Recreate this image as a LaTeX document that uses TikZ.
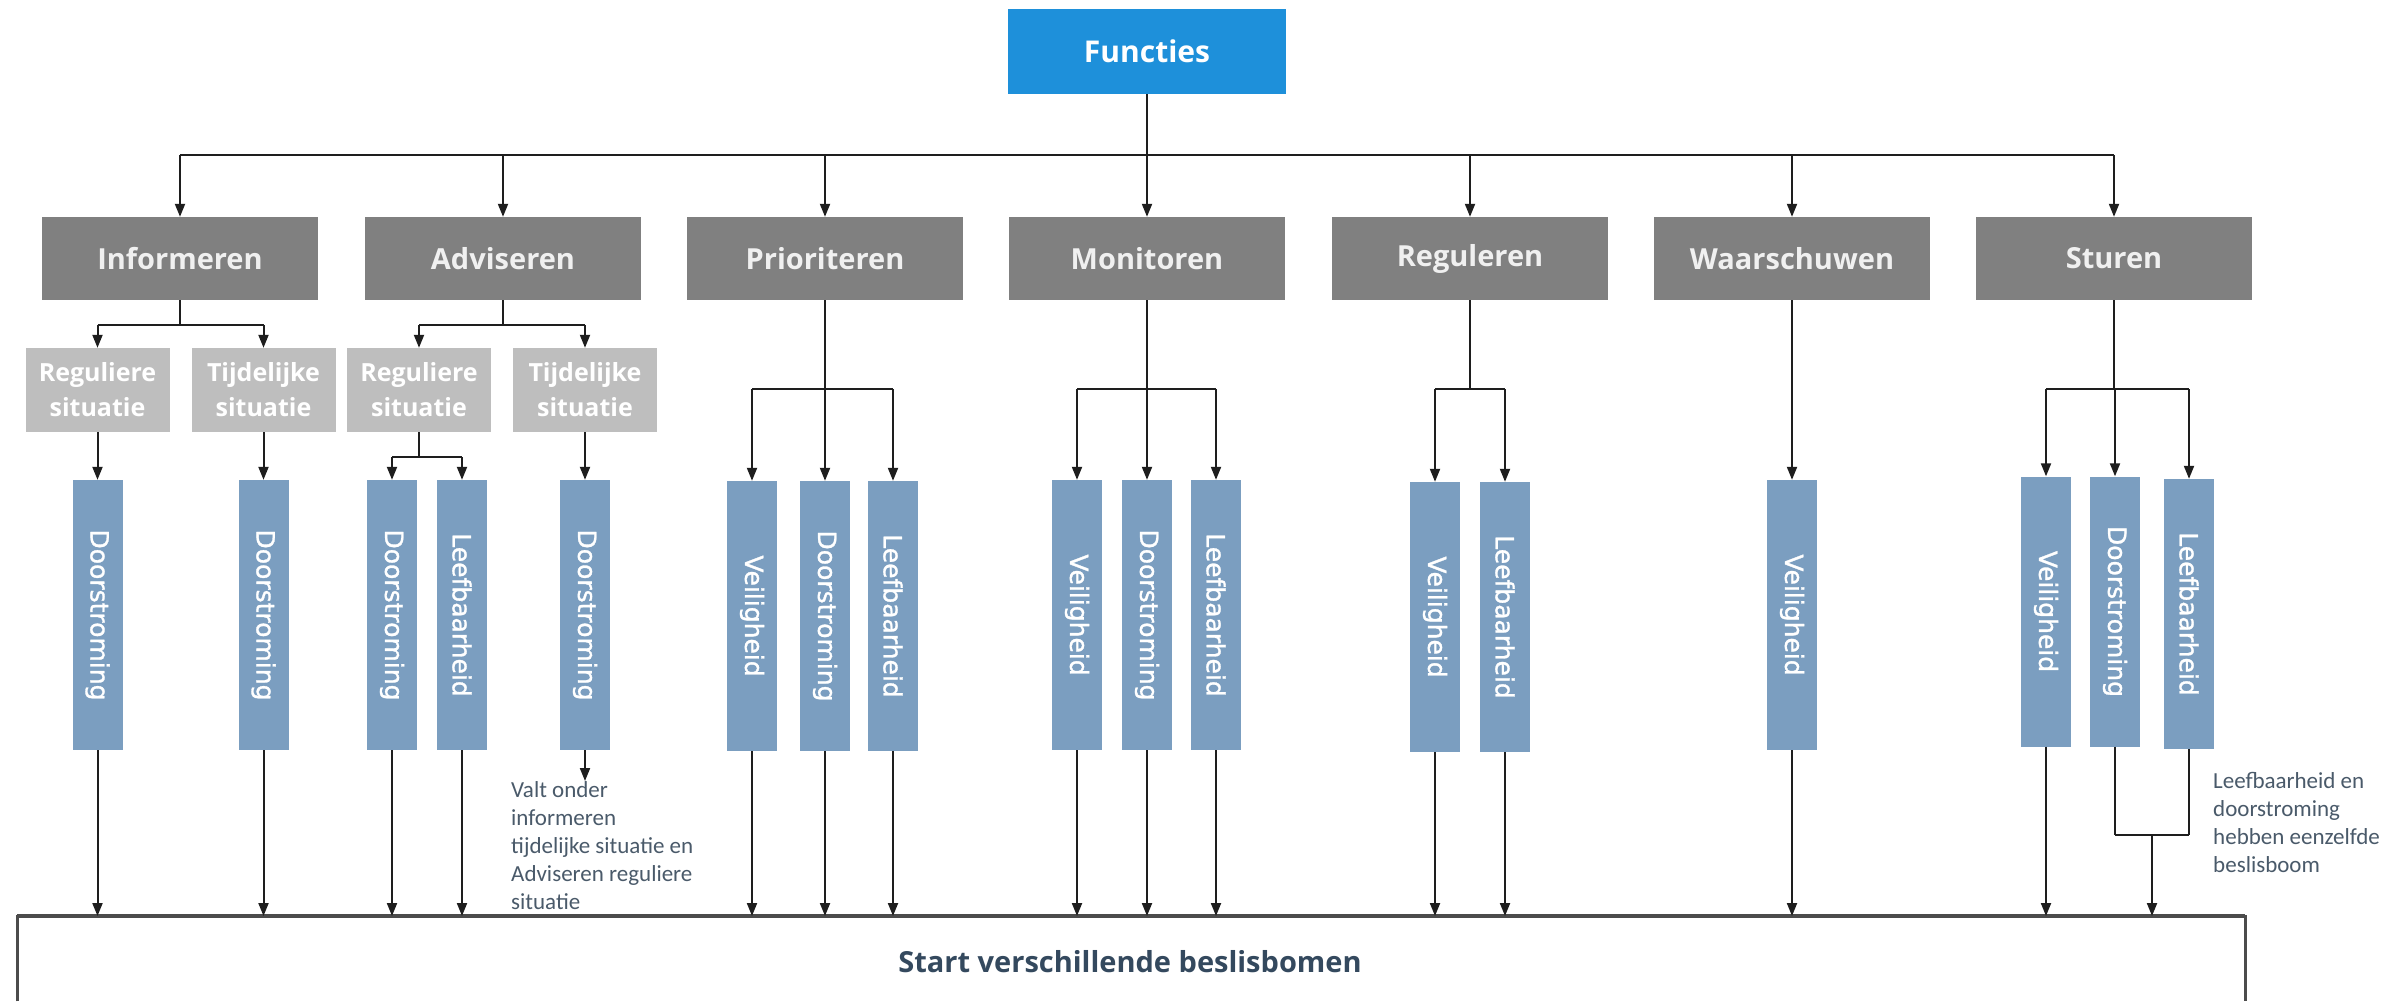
\documentclass[tikz,border=0pt]{standalone}
\usepackage{fontspec}
\usepackage{graphicx}
\setmainfont{Open Sans}
\newfontfamily\notefont{Carlito}
\newfontfamily\vfont[FakeBold=1.2]{DejaVu Sans}
\usetikzlibrary{arrows.meta}
\definecolor{funcblue}{HTML}{1E90DA}
\definecolor{mgray}{HTML}{808080}
\definecolor{lgray}{HTML}{BEBEBE}
\definecolor{steel}{HTML}{7B9EC0}
\definecolor{notec}{HTML}{4A5A6A}
\definecolor{startc}{HTML}{34495E}
\definecolor{linec}{HTML}{1E1E1E}
\begin{document}
\begin{tikzpicture}[x=1pt,y=-1pt,
  conn/.style={line width=2pt, draw=linec},
  arr/.style={conn, -{Triangle[length=13pt,width=10pt]}},
  funcbox/.style={fill=funcblue, minimum width=278pt, minimum height=85pt, inner sep=0pt, text=white, font=\fontsize{30}{36}\selectfont\bfseries},
  mainbox/.style={fill=mgray, minimum width=276pt, minimum height=83pt, inner sep=0pt, text=white!94!black, font=\fontsize{29}{34}\selectfont\bfseries},
  subbox/.style={fill=lgray, minimum width=144pt, minimum height=84pt, inner sep=0pt, text=white, align=center, font=\fontsize{25}{35}\selectfont\bfseries},
  vbox/.style={fill=steel, minimum width=50pt, minimum height=270pt, inner sep=0pt, text=white, font=\vfont\fontsize{25}{30}\selectfont},
  note/.style={inner sep=0pt, align=left, text=notec, font=\notefont\fontsize{23}{28}\selectfont, anchor=north west},
]
\useasboundingbox (0,0) rectangle (2390,1001);
\fill[white] (0,0) rectangle (2390,1001);

% junction levels
\coordinate (bus) at (0,155);
\coordinate (j1) at (0,325);
\coordinate (j3) at (0,389);
\coordinate (j2) at (0,457);
\coordinate (j4) at (0,835);

% top
\node[funcbox] (fun) at (1147,51.5) {Functies};

% main boxes
\node[mainbox] (inf) at (180,258.5) {Informeren};
\node[mainbox] (adv) at (503,258.5) {Adviseren};
\node[mainbox] (pri) at (825,258.5) {Prioriteren};
\node[mainbox] (mon) at (1147,258.5) {Monitoren};
\node[mainbox] (reg) at (1470,258.5) {Reguleren};
\node[mainbox] (waa) at (1792,258.5) {Waarschuwen};
\node[mainbox] (stu) at (2114,258.5) {Sturen};

% sub boxes
\node[subbox] (ir) at (97.5,390) {Reguliere\\situatie};
\node[subbox] (it) at (263.5,390) {Tijdelijke\\situatie};
\node[subbox] (ar) at (419,390) {Reguliere\\situatie};
\node[subbox] (at) at (585,390) {Tijdelijke\\situatie};

% vertical boxes
\node[vbox] (b1) at (97.5,615) {\rotatebox{-90}{Doorstroming}};
\node[vbox] (b2) at (263.5,615) {\rotatebox{-90}{Doorstroming}};
\node[vbox] (b3) at (392,615) {\rotatebox{-90}{Doorstroming}};
\node[vbox] (b4) at (462,615) {\rotatebox{-90}{Leefbaarheid}};
\node[vbox] (b5) at (585,615) {\rotatebox{-90}{Doorstroming}};
\node[vbox] (b6) at (752,616) {\rotatebox{-90}{Veiligheid}};
\node[vbox] (b7) at (825,616) {\rotatebox{-90}{Doorstroming}};
\node[vbox] (b8) at (893,616) {\rotatebox{-90}{Leefbaarheid}};
\node[vbox] (b9) at (1077,615) {\rotatebox{-90}{Veiligheid}};
\node[vbox] (b10) at (1147,615) {\rotatebox{-90}{Doorstroming}};
\node[vbox] (b11) at (1216,615) {\rotatebox{-90}{Leefbaarheid}};
\node[vbox] (b12) at (1435,617) {\rotatebox{-90}{Veiligheid}};
\node[vbox] (b13) at (1505,617) {\rotatebox{-90}{Leefbaarheid}};
\node[vbox] (b14) at (1792,615) {\rotatebox{-90}{Veiligheid}};
\node[vbox] (b15) at (2046,611.5) {\rotatebox{-90}{Veiligheid}};
\node[vbox] (b16) at (2115,611.5) {\rotatebox{-90}{Doorstroming}};
\node[vbox] (b17) at (2189,614) {\rotatebox{-90}{Leefbaarheid}};

% bottom box
\node[inner sep=0pt, minimum width=2228pt, minimum height=85pt, anchor=north west] (start) at (17,916) {};
\draw[line width=3pt, draw=black!70] (start.south west) -- (start.north west) -- (start.north east) -- (start.south east);
\draw[line width=4pt, draw=black!70] (start.north west) -- (start.north east);
\node[text=startc, font=\fontsize{29}{34}\selectfont\bfseries] (starttxt) at (1130,962) {Start verschillende beslisbomen};

% notes
\node[note] (note1) at (511,781) {Valt onder\\informeren\\tijdelijke situatie en\\Adviseren reguliere\\situatie};
\node[note] (note2) at (2213,772) {Leefbaarheid en\\doorstroming\\hebben eenzelfde\\beslisboom};

% connectors: top level
\draw[conn] (fun.south) -- (fun |- bus);
\draw[conn, line width=2.6pt] (inf |- bus) -- (stu |- bus);
\foreach \n in {inf,adv,pri,mon,reg,waa,stu} \draw[arr] (\n |- bus) -- (\n.north);

% informeren / adviseren sub level
\draw[conn] (inf.south) -- (inf |- j1);
\draw[conn, line width=2.6pt] (ir |- j1) -- (it |- j1);
\draw[arr] (ir |- j1) -- (ir.north);
\draw[arr] (it |- j1) -- (it.north);
\draw[conn] (adv.south) -- (adv |- j1);
\draw[conn, line width=2.6pt] (ar |- j1) -- (at |- j1);
\draw[arr] (ar |- j1) -- (ar.north);
\draw[arr] (at |- j1) -- (at.north);

\draw[arr] (ir.south) -- (b1.north);
\draw[arr] (it.south) -- (b2.north);
\draw[arr] (at.south) -- (b5.north);
\draw[conn] (ar.south) -- (ar |- j2);
\draw[conn] (b3 |- j2) -- (b4 |- j2);
\draw[arr] (b3 |- j2) -- (b3.north);
\draw[arr] (b4 |- j2) -- (b4.north);

% prioriteren
\draw[conn] (pri.south) -- (pri |- j3);
\draw[conn] (b6 |- j3) -- (b8 |- j3);
\foreach \b in {b6,b7,b8} \draw[arr] (\b |- j3) -- (\b.north);
% monitoren
\draw[conn] (mon.south) -- (mon |- j3);
\draw[conn] (b9 |- j3) -- (b11 |- j3);
\foreach \b in {b9,b10,b11} \draw[arr] (\b |- j3) -- (\b.north);
% reguleren
\draw[conn] (reg.south) -- (reg |- j3);
\draw[conn] (b12 |- j3) -- (b13 |- j3);
\foreach \b in {b12,b13} \draw[arr] (\b |- j3) -- (\b.north);
% waarschuwen
\draw[arr] (waa.south) -- (b14.north);
% sturen
\draw[conn] (stu.south) -- (stu |- j3);
\draw[conn] (b15 |- j3) -- (b17 |- j3);
\foreach \b in {b15,b16,b17} \draw[arr] (\b |- j3) -- (\b.north);

% to bottom box
\foreach \b in {b1,b2,b3,b4,b6,b7,b8,b9,b10,b11,b12,b13,b14,b15}
  \draw[arr] (\b.south) -- (\b.south |- start.north);
\draw[arr] (b5.south) -- (b5.south |- note1.north);
\coordinate (jst) at (2152,835);
\draw[conn] (b16.south) -- (b16 |- jst);
\draw[conn] (b17.south) -- (b17 |- jst);
\draw[conn] (b16 |- jst) -- (b17 |- jst);
\draw[arr] (jst) -- (jst |- start.north);
\end{tikzpicture}
\end{document}
